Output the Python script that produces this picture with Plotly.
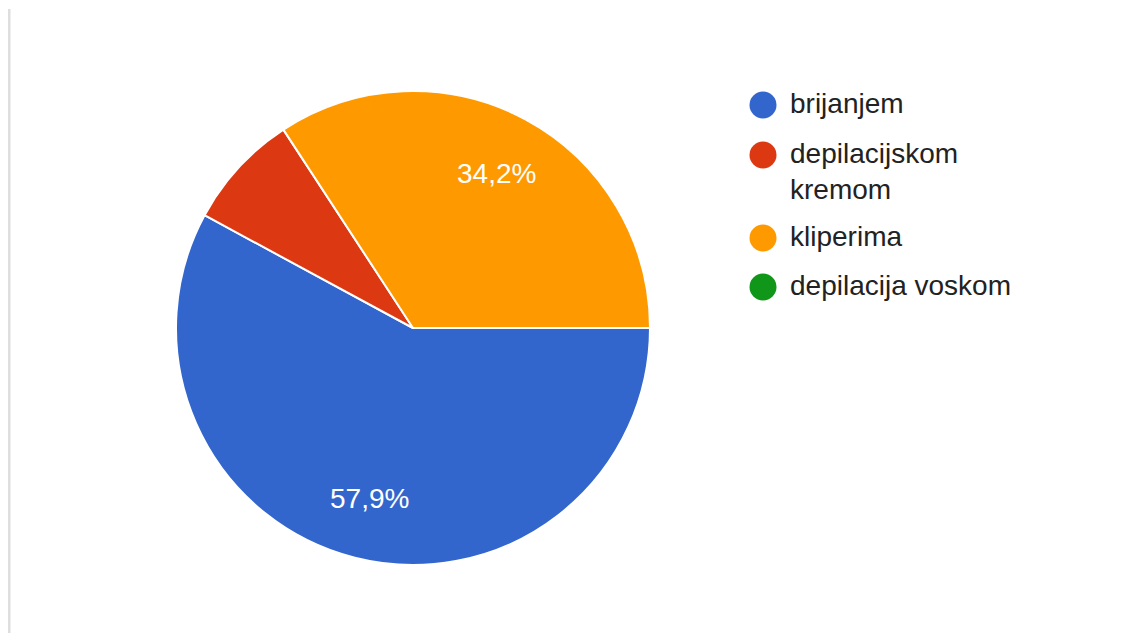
import math
import textwrap
import plotly.graph_objects as go

# page body has an 8px margin, so the figure sits at (8, 8) in the window
OFF = 8
W, H = 1130 - 2 * OFF, 641 - 2 * OFF

labels = ["brijanjem", "depilacijskom kremom", "kliperima", "depilacija voskom"]
counts = [22, 3, 13, 0]
colors = ["#3366cc", "#dc3912", "#ff9900", "#109618"]
show_pct = [True, False, True, False]

font_family = "Liberation Sans, Arial, sans-serif"


def px(x):
    return (x - OFF) / W


def py(y):
    return 1 - (y - OFF) / H


# pie geometry in window pixels
cx, cy, r = 413, 328, 237
start_deg = 90  # first slice starts at 3 o'clock, clockwise

fig = go.Figure(go.Pie(
    labels=labels,
    values=counts,
    sort=False,
    direction="clockwise",
    rotation=start_deg,
    marker=dict(colors=colors, line=dict(color="white", width=2)),
    textinfo="none",
    hoverinfo="label+value+percent",
    showlegend=False,
    domain=dict(x=[px(cx - r), px(cx + r)], y=[py(cy + r), py(cy - r)]),
))

shapes = []
annotations = []

# percentage labels inside the slices
total = sum(counts)
cum = 0.0
for v, s in zip(counts, show_pct):
    frac = v / total
    mid = cum + frac / 2
    cum += frac
    if not s:
        continue
    # clockwise angle from 12 o'clock
    ang = math.radians(start_deg + mid * 360)
    d = 0.74 * r
    tx = cx + d * math.sin(ang)
    ty = cy - d * math.cos(ang)
    annotations.append(dict(
        xref="paper", yref="paper", x=px(tx), y=py(ty),
        xanchor="center", yanchor="middle", showarrow=False,
        text=f"{frac * 100:.1f}%".replace(".", ","),
        font=dict(size=28, color="white", family=font_family),
    ))

# custom legend (circle markers)
leg_x = 763
leg_r = 13.5
leg_y = [105, 155, 238, 287]
for lab, col, y in zip(labels, colors, leg_y):
    shapes.append(dict(
        type="circle", xref="paper", yref="paper",
        x0=px(leg_x - leg_r), x1=px(leg_x + leg_r),
        y0=py(y + leg_r), y1=py(y - leg_r),
        fillcolor=col, line=dict(width=0),
    ))
    txt = "<br>".join(textwrap.wrap(lab, 18))
    annotations.append(dict(
        xref="paper", yref="paper", x=px(788), y=py(y - 19),
        xanchor="left", yanchor="top", align="left", showarrow=False,
        text=txt, font=dict(size=28, color="#222222", family=font_family),
    ))

# left border line
shapes.append(dict(
    type="line", xref="paper", yref="paper",
    x0=px(9), x1=px(9), y0=0, y1=py(9),
    line=dict(color="#dedede", width=3),
))

fig.update_layout(
    width=W, height=H,
    margin=dict(l=0, r=0, t=0, b=0),
    paper_bgcolor="white",
    plot_bgcolor="white",
    separators=", ",
    shapes=shapes,
    annotations=annotations,
    font=dict(family=font_family),
)

fig.write_html("out.html")
